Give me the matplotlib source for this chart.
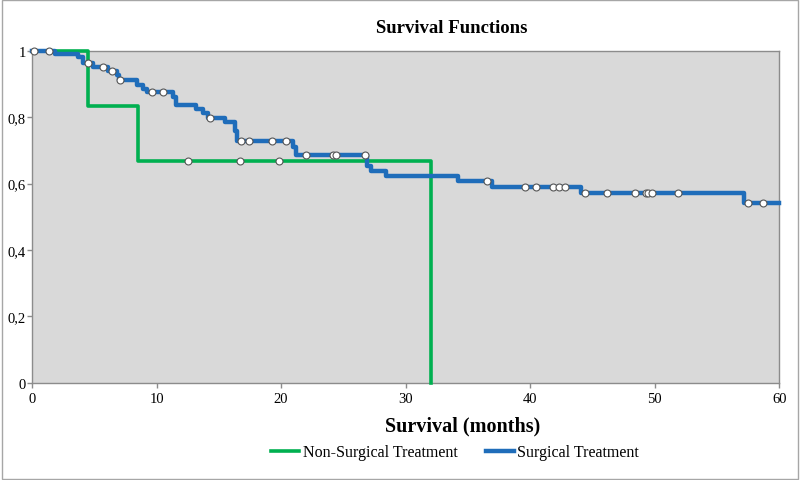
import matplotlib.pyplot as plt
import numpy as np
from matplotlib.patches import Rectangle

# Kaplan-Meier step points (time in months, survival after the step)
surg_times = [0, 1.85, 3.7, 4.1, 4.9, 6.1, 6.85, 7.0, 8.4, 8.9, 9.2, 11.3, 11.6,
              13.2, 13.7, 14.1, 15.5, 16.3, 16.45, 20.95, 21.2, 26.9, 27.2,
              28.4, 34.2, 36.9, 44.1, 57.2, 60]
surg_surv = [1.0, 0.99, 0.981, 0.965, 0.952, 0.94, 0.927, 0.913, 0.897, 0.885,
             0.875, 0.86, 0.838, 0.825, 0.812, 0.797, 0.785, 0.76, 0.729, 0.71,
             0.686, 0.654, 0.637, 0.622, 0.607, 0.589, 0.571, 0.542, 0.542]
surg_censor = [0.15, 1.4, 4.5, 5.7, 6.45, 7.1, 9.6, 10.5, 14.3, 16.8, 17.4, 19.3,
               20.4, 22.0, 24.2, 24.4, 26.7, 36.5, 39.6, 40.5, 41.8, 42.3, 42.8,
               44.4, 46.2, 48.4, 49.3, 49.5, 49.8, 51.9, 57.5, 58.7]

nonsurg_times = [0, 4.5, 8.5, 32.0]
nonsurg_surv = [1.0, 0.833, 0.667, 0.0]
nonsurg_censor = [12.5, 16.7, 19.8]

x_ticks = [0, 10, 20, 30, 40, 50, 60]
y_ticks = [0, 0.2, 0.4, 0.6, 0.8, 1.0]
y_tick_labels = ["0", "0,2", "0,4", "0,6", "0,8", "1"]

GREEN = "#00B050"
BLUE = "#1F6DBA"
EDGE = "#8C8C8C"


def surv_at(times, surv, t):
    idx = np.searchsorted(times, t, side="right") - 1
    return np.asarray(surv)[idx]


plt.rcParams["font.family"] = ["Liberation Serif", "DejaVu Serif"]

fig = plt.figure(figsize=(8, 4.81), dpi=100)
ax = fig.add_axes([0.04, 0.2027, 0.934, 0.6893])
ax.set_facecolor("#D9D9D9")

ax.plot(nonsurg_times, nonsurg_surv, drawstyle="steps-post", color=GREEN,
        lw=2.6, clip_on=False, label="Non-Surgical Treatment", zorder=3)
ax.plot(surg_times, surg_surv, drawstyle="steps-post", color=BLUE,
        lw=3.2, clip_on=False, label="Surgical Treatment", zorder=4)

ax.plot(nonsurg_censor, surv_at(nonsurg_times, nonsurg_surv, nonsurg_censor),
        ls="none", marker="o", ms=5, mfc="white", mec="#555555", mew=0.8,
        clip_on=False, zorder=5)
ax.plot(surg_censor, surv_at(surg_times, surg_surv, surg_censor),
        ls="none", marker="o", ms=5, mfc="white", mec="#555555", mew=0.8,
        clip_on=False, zorder=5)

ax.set_xlim(0, 60)
ax.set_ylim(0, 1)
ax.set_xticks(x_ticks)
ax.set_yticks(y_ticks)
ax.set_yticklabels(y_tick_labels)
ax.tick_params(axis="both", direction="out", length=3.5, width=1, color=EDGE,
               labelsize=10.5)
ax.tick_params(axis="y", pad=1)
ax.tick_params(axis="x", pad=3)
for sp in ax.spines.values():
    sp.set_color(EDGE)
    sp.set_linewidth(1)

fig.text(0.565, 0.940, "Survival Functions", ha="center", va="center",
         fontsize=13.5, fontweight="bold")
fig.text(0.578, 0.114, "Survival (months)", ha="center", va="center",
         fontsize=14.5, fontweight="bold")

fig.legend(loc="center", bbox_to_anchor=(0.569, 0.058), ncol=2, frameon=False,
           fontsize=11.5, handlelength=1.75, handletextpad=0.2,
           columnspacing=1.8)

fig.patches.append(Rectangle((0.002, 0.003), 0.995, 0.994, transform=fig.transFigure,
                             fill=False, edgecolor="#A6A6A6", lw=1))

fig.savefig("out.png", dpi=100)
